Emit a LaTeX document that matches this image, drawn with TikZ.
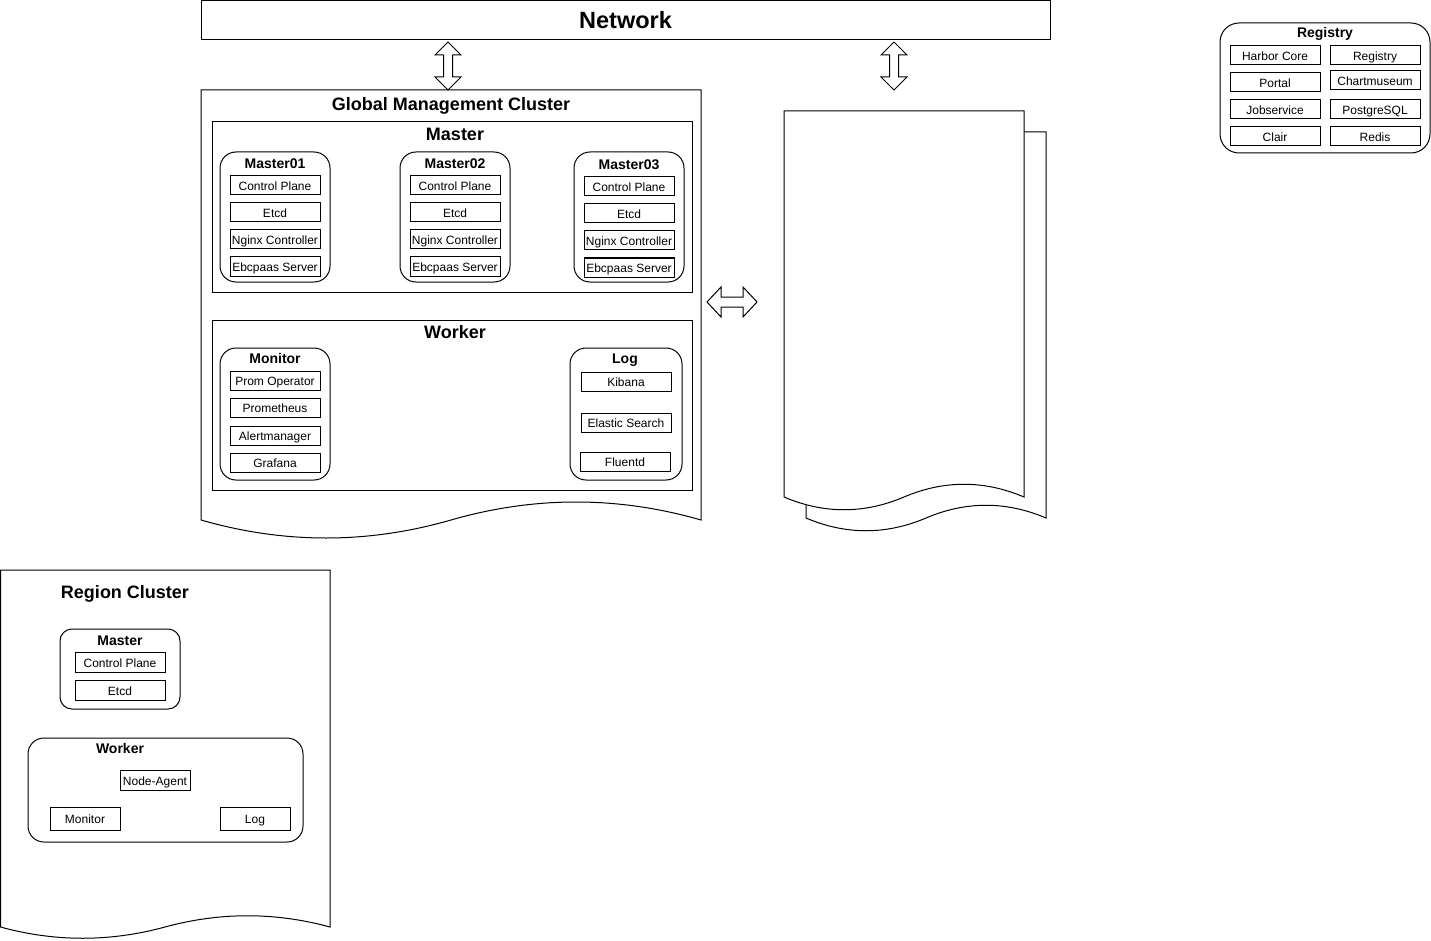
\documentclass[tikz,border=0pt]{standalone}
\usepackage{fontspec}
\setmainfont{Liberation Sans}

\begin{document}
\begin{tikzpicture}[x=1pt,y=-1pt,line width=1pt,
  box/.style={draw,fill=white,inner sep=0pt,minimum width=90pt,minimum height=19pt,
    text height=10.2pt,text depth=0pt,font=\fontsize{12}{14}\selectfont},
  grp/.style={draw,rounded corners=16pt,inner sep=0pt},
  ttl/.style={inner sep=0pt,text height=11pt,text depth=0pt,font=\bfseries\fontsize{14}{16}\selectfont},
  big/.style={inner sep=0pt,text height=14pt,text depth=0pt,font=\bfseries\fontsize{18}{21}\selectfont}]
  \useasboundingbox (0,0) rectangle (1431,941);
  % network on top
  \node[draw,minimum width=849pt,minimum height=39.5pt,text height=17.2pt,text depth=0pt,
    font=\bfseries\fontsize{23.5}{27}\selectfont] (net) at (625.5,20.25) {Network};
  \draw (448,42) -- (461,55) -- (452.5,55) -- (452.5,77) -- (461,77) -- (448,90) -- (435,77) -- (443.5,77) -- (443.5,55) -- (435,55) -- cycle;
  \draw (894,42) -- (907,55) -- (898.5,55) -- (898.5,77) -- (907,77) -- (894,90) -- (881,77) -- (889.5,77) -- (889.5,55) -- (881,55) -- cycle;
  \draw (707,302) -- (721,287) -- (721,297) -- (743,297) -- (743,287) -- (757,302) -- (743,317) -- (743,307) -- (721,307) -- (721,317) -- cycle;
  % global management cluster
  \draw (201,90) -- (701,90) -- (701,520) .. controls (617.67,496) and (534.33,496) .. (451,520) .. controls (367.67,544) and (284.33,544) .. (201,520) -- cycle;
  \node[big] (gmct) at (451,104) {Global Management Cluster};
  \node[draw,minimum width=480pt,minimum height=170pt] (mframe) at (452,207) {};
  \node[big] (mframet) at (455,134) {Master};
  \node[grp,minimum width=110pt,minimum height=130pt] (m1) at (275,217) {};
  \node[ttl] (m1t) at (275,163) {Master01};
  \node[box] (m1cp) at (275,185.5) {Control Plane};
  \node[box] (m1etcd) at (275,212.5) {Etcd};
  \node[box] (m1ngx) at (275,239.5) {Nginx Controller};
  \node[box] (m1ebc) at (275,266.5) {Ebcpaas Server};
  \node[grp,minimum width=110pt,minimum height=130pt] (m2) at (455,217) {};
  \node[ttl] (m2t) at (455,163) {Master02};
  \node[box] (m2cp) at (455,185.5) {Control Plane};
  \node[box] (m2etcd) at (455,212.5) {Etcd};
  \node[box] (m2ngx) at (455,239.5) {Nginx Controller};
  \node[box] (m2ebc) at (455,266.5) {Ebcpaas Server};
  \node[grp,minimum width=110pt,minimum height=130pt] (m3) at (629,217) {};
  \node[ttl] (m3t) at (629,164) {Master03};
  \node[box] (m3cp) at (629,186.5) {Control Plane};
  \node[box] (m3etcd) at (629,213.5) {Etcd};
  \node[box] (m3ngx) at (629,240.5) {Nginx Controller};
  \node[box] (m3ebc) at (629,267.5) {Ebcpaas Server};
  \node[draw,minimum width=480pt,minimum height=170pt] (wframe) at (452,405) {};
  \node[big] (wframet) at (455,331.5) {Worker};
  \node[grp,minimum width=110pt,minimum height=132pt] (mon) at (275,414) {};
  \node[ttl] (mont) at (275,358) {Monitor};
  \node[box] (prop) at (275,380.5) {Prom Operator};
  \node[box] (prom) at (275,407.5) {Prometheus};
  \node[box] (alert) at (275,435.5) {Alertmanager};
  \node[box] (graf) at (275,462.5) {Grafana};
  \node[grp,minimum width=112pt,minimum height=132pt] (log) at (626,414) {};
  \node[ttl] (logt) at (625,358) {Log};
  \node[box] (kib) at (626,381.5) {Kibana};
  \node[box] (es) at (626,422.5) {Elastic Search};
  \node[box] (flu) at (625,461.5) {Fluentd};
  % empty stacked documents
  \draw[fill=white] (806,132) -- (1046,132) -- (1046,518) .. controls (1006,501) and (966,501) .. (926,518) .. controls (886,535) and (846,535) .. (806,518) -- cycle;
  \draw[fill=white] (784,111) -- (1024,111) -- (1024,497) .. controls (984,480) and (944,480) .. (904,497) .. controls (864,514) and (824,514) .. (784,497) -- cycle;
  % registry
  \node[grp,rounded corners=19pt,minimum width=210pt,minimum height=130pt] (reg) at (1325,88) {};
  \node[ttl] (regt) at (1325,32) {Registry};
  \node[box] (hcore) at (1275,55.5) {Harbor Core};
  \node[box] (portal) at (1275,82) {Portal};
  \node[box] (jobs) at (1275,109) {Jobservice};
  \node[box] (clair) at (1275,136) {Clair};
  \node[box] (regy) at (1375,55.5) {Registry};
  \node[box] (chart) at (1375,80.5) {Chartmuseum};
  \node[box] (pg) at (1375,109) {PostgreSQL};
  \node[box] (redis) at (1375,136) {Redis};
  % region cluster
  \draw (0.5,570) -- (330,570) -- (330,927) .. controls (275,912) and (220,912) .. (165,927) .. controls (110,942) and (55,942) .. (0.5,927) -- cycle;
  \node[big] (rct) at (125,591) {Region Cluster};
  \node[grp,rounded corners=12pt,minimum width=120pt,minimum height=80pt] (rm) at (120,669) {};
  \node[ttl] (rmt) at (120,640) {Master};
  \node[box,minimum height=20pt] (rmcp) at (120,662) {Control Plane};
  \node[box,minimum height=20pt] (rmetcd) at (120,690) {Etcd};
  \node[grp,minimum width=275pt,minimum height=104pt] (rw) at (165.5,790) {};
  \node[ttl] (rwt) at (120,748) {Worker};
  \node[box,minimum width=70pt,minimum height=20pt] (agent) at (155,780) {Node-Agent};
  \node[box,minimum width=70pt,minimum height=23pt] (rmon) at (85,818.5) {Monitor};
  \node[box,minimum width=70pt,minimum height=23pt] (rlog) at (255,818.5) {Log};
\end{tikzpicture}
\end{document}
